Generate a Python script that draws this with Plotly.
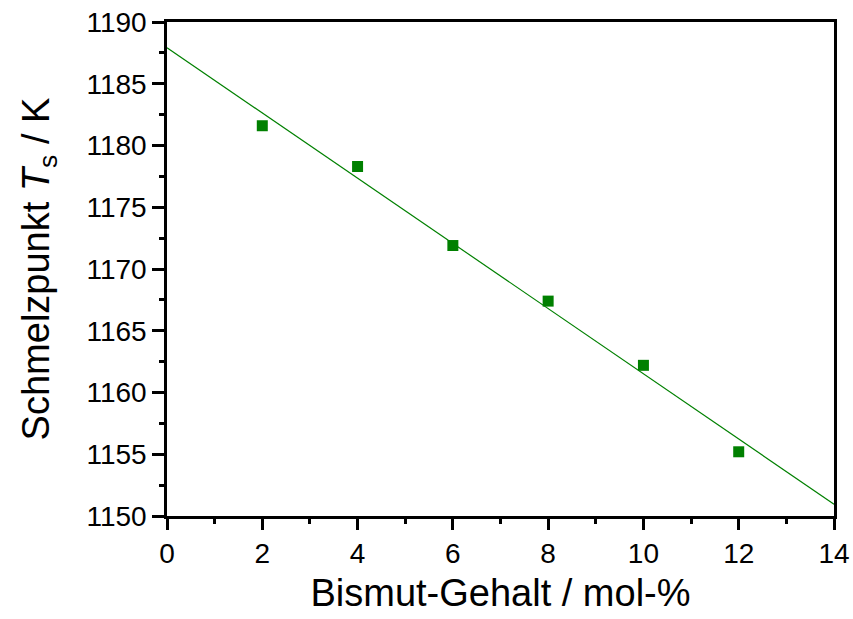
import numpy as np
import plotly.graph_objects as go

# Bismuth content (mol-%) and measured melting points (K)
bismut_gehalt = [2, 4, 6, 8, 10, 12]
schmelzpunkt = [1181.6, 1178.3, 1171.9, 1167.4, 1162.2, 1155.2]

# Linear fit drawn across the full x range
fit_x = [0, 14]
slope, intercept = np.polyfit(bismut_gehalt, schmelzpunkt, 1)
fit_y = [intercept + slope * x for x in fit_x]

green = "#008000"
font_family = "Liberation Sans, Arial, sans-serif"

fig = go.Figure()
fig.add_trace(go.Scatter(
    x=fit_x, y=fit_y, mode="lines",
    line=dict(color=green, width=1.2),
    showlegend=False, hoverinfo="skip",
))
fig.add_trace(go.Scatter(
    x=bismut_gehalt, y=schmelzpunkt, mode="markers",
    marker=dict(symbol="square", size=11, color=green),
    showlegend=False,
))

axis_common = dict(
    showgrid=False, zeroline=False,
    showline=True, linecolor="black", linewidth=2.5, mirror=True,
    ticks="outside", tickcolor="black", tickwidth=2.5,
    tickfont=dict(family=font_family, size=28, color="black"),
)

fig.update_xaxes(
    range=[0, 14], tick0=0, dtick=2, ticklen=11,
    minor=dict(ticks="outside", dtick=1, ticklen=5, tickwidth=2.5, tickcolor="black"),
    title=dict(text="Bismut-Gehalt / mol-%",
               font=dict(family=font_family, size=38, color="black"),
               standoff=12),
    **axis_common,
)
fig.update_yaxes(
    range=[1150, 1190], tick0=1150, dtick=5, ticklen=12,
    minor=dict(ticks="outside", dtick=2.5, ticklen=5, tickwidth=2.5, tickcolor="black"),
    title=dict(text="Schmelzpunkt <i>T</i><sub>s</sub> / K",
               font=dict(family=font_family, size=38, color="black"),
               standoff=26),
    **axis_common,
)

fig.update_layout(
    width=853, height=619,
    margin=dict(l=167, r=19, t=22, b=103, autoexpand=False),
    paper_bgcolor="white", plot_bgcolor="white",
)

fig.write_html("out.html")
